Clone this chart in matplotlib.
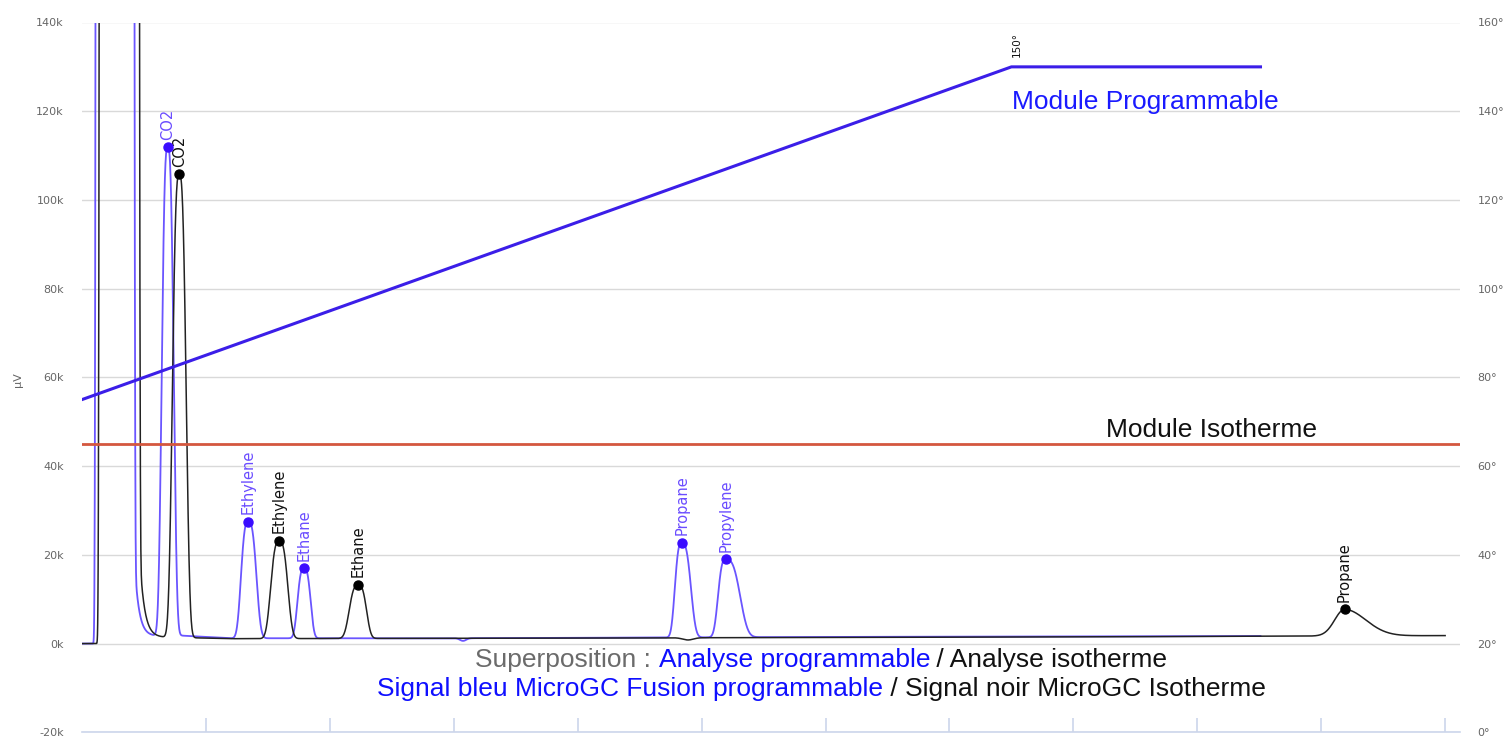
import numpy as np
import matplotlib
matplotlib.use('Agg')
import matplotlib.pyplot as plt

# retention axis in arbitrary units, one x tick per unit (no tick labels)
# blue = MicroGC Fusion programmable, black = MicroGC isotherme
blue_names = ['CO2', 'Ethylene', 'Ethane', 'Propane', 'Propylene']
blue_times = [0.692, 1.342, 1.792, 4.840, 5.195]
blue_apex = [111900, 27500, 17000, 22700, 19000]      # µV at peak top
blue_wl = [0.057, 0.069, 0.062, 0.065, 0.073]
blue_wr = [0.057, 0.077, 0.062, 0.086, 0.135]

black_names = ['CO2', 'Ethylene', 'Ethane', 'Propane']
black_times = [0.785, 1.592, 2.230, 10.188]
black_apex = [105800, 23100, 13200, 7700]
black_wl = [0.065, 0.081, 0.086, 0.112]
black_wr = [0.065, 0.081, 0.077, 0.240]
black_shape = [3, 3, 3, 2]

# off-scale air peak (centre, half width, right-hand tail and its decay)
air_center = {'blue': 0.266, 'black': 0.301}
air_halfwidth = {'blue': 0.145, 'black': 0.150}
air_tail = {'blue': 16000, 'black': 18000}
air_tau = {'blue': 0.036, 'black': 0.038}

# baselines
blue_base_t = [0, 0.16, 0.40, 0.80, 1.20, 3.0, 6.0, 9.51]
blue_base_v = [0, 0, 1600, 1800, 1200, 1200, 1500, 1700]
black_base_t = [0, 0.20, 0.45, 0.90, 1.20, 3.0, 8.0, 11.0]
black_base_v = [0, 0, 1500, 1300, 1100, 1200, 1500, 1800]

# small baseline dips
blue_dip = (3.075, -600, 0.035)
black_dip = (4.89, -500, 0.06)

# oven temperature (right axis)
ramp_t = [0, 7.5, 9.51]
ramp_temp = [75, 150, 150]
iso_temp = 65

blue_end = 9.51
black_end = 11.0


def peak(t, t0, height, wl, wr, p=3):
    d = np.where(t < t0, (t0 - t) / wl, (t - t0) / wr)
    return height * np.exp(-np.abs(d) ** p)


def build_trace(end, base_t, base_v, times, apex, wl, wr, shapes, key, dip):
    t = np.linspace(0, end, 6000)
    base = np.interp(t, base_t, base_v)
    y = base.copy()
    for t0, a, l, r, p in zip(times, apex, wl, wr, shapes):
        y += peak(t, t0, a - np.interp(t0, base_t, base_v), l, r, p)
    c, w = air_center[key], air_halfwidth[key]
    y += 2e6 * np.exp(-np.abs((t - c) / w) ** 12)
    edge = c + w * 1.1
    y += np.where(t > c, air_tail[key] * np.exp(-(t - edge) / air_tau[key]), 0)
    y += peak(t, dip[0], dip[1], dip[2], dip[2], 2)
    return t, y


tb, yb = build_trace(blue_end, blue_base_t, blue_base_v, blue_times, blue_apex,
                     blue_wl, blue_wr, [3] * len(blue_times), 'blue', blue_dip)
tk, yk = build_trace(black_end, black_base_t, black_base_v, black_times, black_apex,
                     black_wl, black_wr, black_shape, 'black', black_dip)

W, H = 1505, 740
fig = plt.figure(figsize=(W / 100, H / 100), dpi=100)
left, right, top, bottom = 82, 1460, 22.5, 732.3
ax = fig.add_axes([left / W, 1 - bottom / H, (right - left) / W, (bottom - top) / H])
ax2 = ax.twinx()

grey = '#666666'
axis_col = '#ccd6eb'

ax.set_xlim(0, 11.12)
ax.set_ylim(-20000, 140000)
yt = list(range(-20000, 140001, 20000))
ax.set_yticks(yt)
ax.set_yticklabels([f'{v // 1000}k' for v in yt])
ax.set_xticks(range(1, 12))
ax.set_xticklabels([])
ax.grid(axis='y', color='#d9d9d9', lw=1)
ax.set_axisbelow(True)
for s in ['left', 'right', 'top']:
    ax.spines[s].set_visible(False)
    ax2.spines[s].set_visible(False)
ax.spines['bottom'].set_color(axis_col)
ax.spines['bottom'].set_linewidth(1.2)
ax2.spines['bottom'].set_visible(False)
ax.tick_params(axis='x', direction='in', length=10, color=axis_col, width=1.2)
ax.tick_params(axis='y', length=0, pad=13, labelcolor=grey, labelsize=8)

ax2.set_ylim(0, 160)
tt = list(range(0, 161, 20))
ax2.set_yticks(tt)
ax2.set_yticklabels([f'{v}°' for v in tt])
ax2.tick_params(axis='y', length=0, pad=12.5, labelcolor=grey, labelsize=8)

# chromatograms
ax.plot(tb, yb, color='#6a55ff', lw=1.3, zorder=3)
ax.plot(tk, yk, color='#222222', lw=1.1, zorder=3)

ax.plot(blue_times, blue_apex, 'o', color='#3a0cff', ms=6.5, zorder=4)
ax.plot(black_times, black_apex, 'o', color='#000000', ms=6.5, zorder=4)
for name, x, v in zip(blue_names, blue_times, blue_apex):
    ax.annotate(name, (x, v), xytext=(0, 5.5), textcoords='offset points',
                rotation=90, ha='center', va='bottom', fontsize=10.5, color='#6a4cff')
for name, x, v in zip(black_names, black_times, black_apex):
    ax.annotate(name, (x, v), xytext=(0, 5.5), textcoords='offset points',
                rotation=90, ha='center', va='bottom', fontsize=10.5, color='#111111')

# oven temperatures
ax2.plot(ramp_t, ramp_temp, color='#3b1ee8', lw=2.2, zorder=5)
ax2.axhline(iso_temp, color='#d4573f', lw=2, zorder=5)
ax2.annotate(f'{ramp_temp[1]}°', (ramp_t[1], ramp_temp[1]), xytext=(4, 7),
             textcoords='offset points', rotation=90, ha='center', va='bottom',
             fontsize=7.5, color='#111111')

fig.text(18 / W, 1 - 380 / H, 'µV', rotation=90, ha='center', va='center',
         fontsize=8, color=grey)

font = 'Liberation Sans'
fs = 19
fig.text(1012 / W, 1 - 108.5 / H, 'Module Programmable', fontsize=fs, family=font,
         color='#1a1aff', va='baseline')
fig.text(1106 / W, 1 - 436.7 / H, 'Module Isotherme', fontsize=fs, family=font,
         color='#111111', va='baseline')

renderer = fig.canvas.get_renderer()


def advance(s):
    t1 = fig.text(0, 0, s + '|', fontsize=fs, family=font)
    t2 = fig.text(0, 0, '|', fontsize=fs, family=font)
    w = t1.get_window_extent(renderer).width - t2.get_window_extent(renderer).width
    t1.remove()
    t2.remove()
    return w


def colored_line(parts, cx, base_y):
    total = advance(''.join(p for p, _ in parts))
    x0 = cx - total / 2
    prefix = ''
    for s, c in parts:
        x = x0 + (advance(prefix) if prefix else 0)
        fig.text(x / W, 1 - base_y / H, s, fontsize=fs, family=font, color=c,
                 va='baseline')
        prefix += s


blue_txt = '#0f0fff'
colored_line([('Superposition : ', '#6b6b6b'), ('Analyse programmable', blue_txt),
              (' / Analyse isotherme', '#111111')], 821, 666.7)
colored_line([('Signal bleu MicroGC Fusion programmable', blue_txt),
              (' / Signal noir MicroGC Isotherme', '#111111')], 821, 696)

fig.savefig('out.png', dpi=100)
